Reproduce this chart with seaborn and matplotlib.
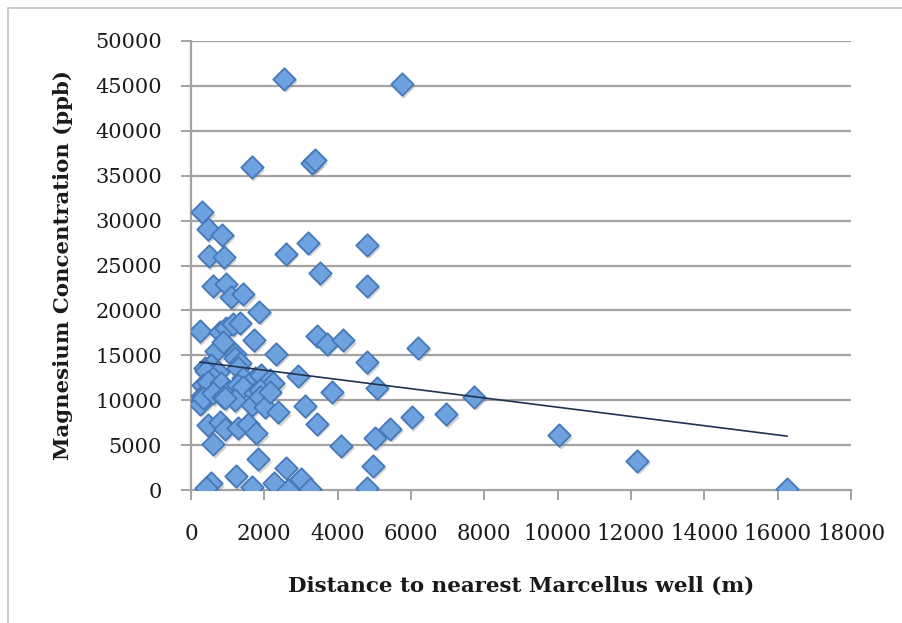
import numpy as np
import pandas as pd
import seaborn as sns
import matplotlib
matplotlib.use("Agg")
import matplotlib.pyplot as plt
from matplotlib import transforms
from matplotlib.patches import Rectangle

# distance to nearest Marcellus well (m) and magnesium (ppb)
distance_m = [
    2540, 5750, 1650, 3290, 3380, 310, 460, 855, 490, 890,
    2585, 3195, 4806, 3514, 4806, 600, 964, 1100, 1420, 1855,
    245, 780, 964, 1145, 1330, 1710, 3424, 3697, 4150, 6200,
    2330, 690, 1190, 870, 4790, 1190, 1330, 372, 555, 735,
    420, 1280, 600, 1420, 1740, 1920, 2150, 2240, 2920, 325,
    463, 690, 828, 1010, 1280, 1420, 1740, 1875, 3850, 5070,
    7730, 240, 260, 250, 325, 600, 870, 1190, 920, 1650,
    1875, 2010, 2150, 2375, 3105, 3430, 463, 780, 920, 1280,
    1555, 1785, 600, 4100, 5030, 5440, 6020, 6965, 10040, 12170,
    16260, 4970, 4790, 1830, 555, 420, 1215, 1650, 2260, 2600,
    2650, 3000, 3240,
]
magnesium_ppb = [
    45800, 45200, 35950, 36400, 36700, 30950, 29050, 28400, 26050, 25900,
    26300, 27550, 27300, 24150, 22750, 22700, 22950, 21450, 21800, 19850,
    17700, 17650, 18000, 18450, 18650, 16700, 17150, 16300, 16650, 15850,
    15150, 15450, 15100, 16500, 14200, 14670, 14110, 13550, 13920, 13170,
    13230, 13600, 12480, 12480, 12440, 12800, 12250, 11880, 12700, 11690,
    12060, 11140, 11930, 10950, 11690, 11500, 10770, 11140, 10900, 11400,
    10400, 10210, 9830, 9630, 10190, 10750, 10380, 10020, 10210, 9450,
    10380, 9280, 10940, 8650, 9400, 7400, 7230, 7600, 6750, 6950,
    7400, 6300, 5100, 4950, 5800, 6800, 8100, 8450, 6100, 3250,
    150, 2700, 180, 3430, 730, 170, 1550, 360, 800, 2500,
    0, 1200, 150,
]

# Excel linear trendline as it appears on the chart (ppb = slope * m + intercept)
trend_slope = -0.515
trend_intercept = 14370

x_ticks = list(range(0, 18001, 2000))
y_ticks = list(range(0, 50001, 5000))

df = pd.DataFrame({"distance": distance_m, "mg": magnesium_ppb})

sns.set_theme(style="white")
plt.rcParams["font.family"] = ["DejaVu Serif"]

fig = plt.figure(figsize=(9.02, 6.23), dpi=100)
ax = fig.add_axes([191 / 902, 1 - 490 / 623, 660 / 902, 449 / 623])

grid_c = "#A3A3A3"
for yv in y_ticks[1:]:
    ax.axhline(yv, color=grid_c, lw=1.6, zorder=0)

# soft drop shadow under the diamonds
shadow = transforms.offset_copy(ax.transData, fig=fig, x=1.5, y=-2.5, units="dots")
sns.scatterplot(data=df, x="distance", y="mg", marker="D", s=130,
                color="#7f7f7f", alpha=0.35, linewidth=0, transform=shadow,
                ax=ax, zorder=2, legend=False)
sns.scatterplot(data=df, x="distance", y="mg", marker="D", s=130,
                color="#6EA2DF", edgecolor="#4778B8", linewidth=1.3,
                ax=ax, zorder=3, legend=False)

# trendline spans the data range
xs = np.array([df["distance"].min(), df["distance"].max()])
ax.plot(xs, trend_slope * xs + trend_intercept, color="#1E344F", lw=1.2, zorder=4)

ax.set_xlim(0, 18000)
ax.set_ylim(0, 50000)
ax.set_xticks(x_ticks)
ax.set_yticks(y_ticks)
ax.set_xticklabels([str(v) for v in x_ticks])
ax.set_yticklabels([str(v) for v in y_ticks])

for side in ["top", "right"]:
    ax.spines[side].set_visible(False)
for side in ["left", "bottom"]:
    ax.spines[side].set_color(grid_c)
    ax.spines[side].set_linewidth(1.6)
    ax.spines[side].set_zorder(1)

ax.tick_params(axis="both", which="major", direction="out", length=7, width=1.4,
               color=grid_c, labelsize=15, labelcolor="#1a1a1a", pad=14,
               left=True, bottom=True)
ax.tick_params(axis="x", pad=17, labelsize=15.5)

ax.set_xlabel("Distance to nearest Marcellus well (m)", fontsize=15.4,
              fontweight="bold", color="#1a1a1a", labelpad=22)
ax.set_ylabel("Magnesium Concentration (ppb)", fontsize=15.3,
              fontweight="bold", color="#1a1a1a", labelpad=16)

fig.patches.append(Rectangle((8 / 902, -0.05), 1.1, 1 - 8 / 623 + 0.05,
                             transform=fig.transFigure, fill=False,
                             edgecolor="#C4C4C4", lw=1.2))

fig.savefig("out.png", dpi=100, facecolor="white")
